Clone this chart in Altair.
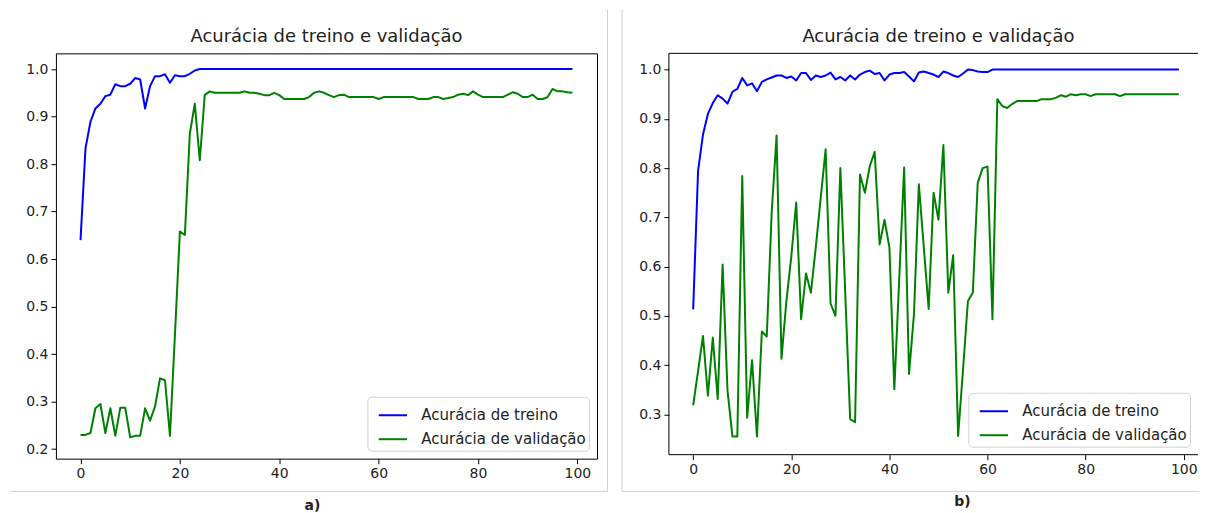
import altair as alt
import pandas as pd

series_names = ["Acurácia de treino", "Acurácia de validação"]
series_colors = ["#0000ff", "#008000"]
panel_title = "Acurácia de treino e validação"
panel_labels = ["a)", "b)"]

epochs = list(range(100))
x_ticks = [0, 20, 40, 60, 80, 100]
y_ticks_a = [0.2, 0.3, 0.4, 0.5, 0.6, 0.7, 0.8, 0.9, 1.0]
y_ticks_b = [0.3, 0.4, 0.5, 0.6, 0.7, 0.8, 0.9, 1.0]

train_a = [
    0.640, 0.833, 0.889, 0.917, 0.927, 0.943, 0.946, 0.968, 0.964, 0.964,
    0.969, 0.981, 0.978, 0.917, 0.964, 0.985, 0.985, 0.989, 0.971, 0.987,
    0.985, 0.985, 0.990, 0.997, 1.000, 1.000, 1.000, 1.000, 1.000, 1.000,
    1.000, 1.000, 1.000, 1.000, 1.000, 1.000, 1.000, 1.000, 1.000, 1.000,
    1.000, 1.000, 1.000, 1.000, 1.000, 1.000, 1.000, 1.000, 1.000, 1.000,
    1.000, 1.000, 1.000, 1.000, 1.000, 1.000, 1.000, 1.000, 1.000, 1.000,
    1.000, 1.000, 1.000, 1.000, 1.000, 1.000, 1.000, 1.000, 1.000, 1.000,
    1.000, 1.000, 1.000, 1.000, 1.000, 1.000, 1.000, 1.000, 1.000, 1.000,
    1.000, 1.000, 1.000, 1.000, 1.000, 1.000, 1.000, 1.000, 1.000, 1.000,
    1.000, 1.000, 1.000, 1.000, 1.000, 1.000, 1.000, 1.000, 1.000, 1.000,
]
val_a = [
    0.230, 0.230, 0.234, 0.286, 0.295, 0.234, 0.286, 0.228, 0.287, 0.287,
    0.225, 0.228, 0.228, 0.286, 0.260, 0.290, 0.349, 0.345, 0.228, 0.440,
    0.658, 0.651, 0.864, 0.927, 0.808, 0.945, 0.953, 0.950, 0.950, 0.950,
    0.950, 0.950, 0.950, 0.953, 0.950, 0.950, 0.948, 0.945, 0.945, 0.950,
    0.945, 0.937, 0.937, 0.937, 0.937, 0.937, 0.941, 0.950, 0.953, 0.950,
    0.945, 0.941, 0.945, 0.946, 0.941, 0.941, 0.941, 0.941, 0.941, 0.941,
    0.937, 0.941, 0.941, 0.941, 0.941, 0.941, 0.941, 0.941, 0.937, 0.937,
    0.937, 0.941, 0.941, 0.937, 0.939, 0.941, 0.946, 0.948, 0.945, 0.953,
    0.946, 0.941, 0.941, 0.941, 0.941, 0.941, 0.946, 0.951, 0.948, 0.941,
    0.941, 0.946, 0.937, 0.937, 0.941, 0.958, 0.953, 0.953, 0.951, 0.950,
]
train_b = [
    0.513, 0.795, 0.868, 0.910, 0.932, 0.948, 0.941, 0.931, 0.955, 0.961,
    0.983, 0.968, 0.972, 0.956, 0.975, 0.980, 0.984, 0.988, 0.988, 0.983,
    0.986, 0.978, 0.993, 0.993, 0.979, 0.988, 0.985, 0.988, 0.994, 0.980,
    0.985, 0.978, 0.988, 0.980, 0.990, 0.995, 0.998, 0.991, 0.993, 0.978,
    0.990, 0.993, 0.993, 0.995, 0.986, 0.976, 0.994, 0.996, 0.993, 0.990,
    0.985, 0.996, 0.993, 0.988, 0.985, 0.992, 1.000, 0.999, 0.996, 0.995,
    0.995, 1.000, 1.000, 1.000, 1.000, 1.000, 1.000, 1.000, 1.000, 1.000,
    1.000, 1.000, 1.000, 1.000, 1.000, 1.000, 1.000, 1.000, 1.000, 1.000,
    1.000, 1.000, 1.000, 1.000, 1.000, 1.000, 1.000, 1.000, 1.000, 1.000,
    1.000, 1.000, 1.000, 1.000, 1.000, 1.000, 1.000, 1.000, 1.000, 1.000,
]
val_b = [
    0.318, 0.388, 0.459, 0.338, 0.456, 0.331, 0.604, 0.348, 0.255, 0.255,
    0.784, 0.293, 0.410, 0.255, 0.468, 0.458, 0.710, 0.866, 0.413, 0.530,
    0.620, 0.730, 0.493, 0.586, 0.547, 0.640, 0.740, 0.838, 0.525, 0.500,
    0.800, 0.545, 0.290, 0.284, 0.787, 0.750, 0.804, 0.833, 0.645, 0.695,
    0.639, 0.351, 0.575, 0.801, 0.382, 0.503, 0.767, 0.640, 0.514, 0.750,
    0.695, 0.847, 0.547, 0.623, 0.256, 0.390, 0.530, 0.547, 0.770, 0.800,
    0.803, 0.493, 0.940, 0.926, 0.922, 0.930, 0.936, 0.936, 0.936, 0.936,
    0.936, 0.940, 0.940, 0.940, 0.943, 0.948, 0.945, 0.950, 0.948, 0.950,
    0.950, 0.946, 0.950, 0.950, 0.950, 0.950, 0.950, 0.946, 0.950, 0.950,
    0.950, 0.950, 0.950, 0.950, 0.950, 0.950, 0.950, 0.950, 0.950, 0.950,
]

FONT = "DejaVu Sans"
one = pd.DataFrame({"k": [0]})


def make_panel(train, val, width, height, ydomain, yticks, xmax, label, lab_x, lab_y,
               vline, hline, title_dx, own_spines):
    df = pd.DataFrame({
        "epoch": epochs + epochs,
        "acc": train + val,
        "serie": [series_names[0]] * len(epochs) + [series_names[1]] * len(epochs),
    })
    lines = alt.Chart(df).mark_line(strokeWidth=2, strokeJoin="round").encode(
        x=alt.X("epoch:Q", scale=alt.Scale(domain=[-4.95, xmax], nice=False, zero=False),
                axis=alt.Axis(values=x_ticks, title=None, format="d")),
        y=alt.Y("acc:Q", scale=alt.Scale(domain=ydomain, nice=False, zero=False),
                axis=alt.Axis(values=yticks, title=None, format=".1f")),
        color=alt.Color("serie:N",
                        scale=alt.Scale(domain=series_names, range=series_colors),
                        sort=series_names,
                        legend=alt.Legend(title=None, orient="bottom-right", offset=8,
                                          fillColor="white", strokeColor="#d0d0d0",
                                          cornerRadius=4, padding=3, symbolOffset=7,
                                          symbolType="stroke",
                                          symbolSize=800, symbolStrokeWidth=2,
                                          labelFont=FONT, labelFontSize=15, labelColor="#222",
                                          labelOffset=13, rowPadding=0, labelLimit=400)),
    )
    layers = [lines]
    grey = "#d0d0d0"
    layers.append(alt.Chart(one).mark_rule(color=grey, strokeWidth=1).encode(
        x=alt.value(vline[0]), y=alt.value(vline[1]), y2=alt.value(vline[2])))
    layers.append(alt.Chart(one).mark_rule(color=grey, strokeWidth=1).encode(
        x=alt.value(hline[0]), x2=alt.value(hline[1]), y=alt.value(hline[2])))
    if own_spines:
        layers.append(alt.Chart(one).mark_rule(color="black", strokeWidth=1).encode(
            x=alt.value(0), y=alt.value(0), y2=alt.value(height)))
        layers.append(alt.Chart(one).mark_rule(color="black", strokeWidth=1).encode(
            x=alt.value(0), x2=alt.value(width), y=alt.value(height)))
        layers.append(alt.Chart(one).mark_rule(color="black", strokeWidth=1).encode(
            x=alt.value(0), x2=alt.value(width), y=alt.value(0)))
    layers.append(alt.Chart(one).mark_text(text=label, font=FONT, fontSize=14, fontWeight="bold",
                                           align="center", baseline="alphabetic",
                                           color="#222").encode(
        x=alt.value(lab_x), y=alt.value(lab_y)))
    view = alt.ViewBackground(stroke="transparent") if own_spines else alt.ViewBackground(
        stroke="black", strokeWidth=1)
    return alt.layer(*layers).properties(
        width=width, height=height, view=view,
        title=alt.TitleParams(panel_title, font=FONT, fontSize=18, fontWeight="normal",
                              color="#222", anchor="middle", frame="group",
                              baseline="alphabetic", offset=-51, dx=title_dx),
    )


left = make_panel(train_a, val_a, 542, 406, [0.180, 1.033], y_ticks_a, 103.95,
                  panel_labels[0], 257, 457, (552.5, -44, 438.8), (-46.5, 552.5, 438.8),
                  0, False)
right = make_panel(train_b, val_b, 530, 402, [0.218, 1.033], y_ticks_b, 102.9,
                   panel_labels[1], 294, 453, (-47, -44, 438.8), (-47, 531, 438.8),
                   5, True)

chart = alt.hconcat(left, right, spacing=12).resolve_legend(
    color="independent"
).resolve_scale(
    color="independent", x="independent", y="independent"
).properties(
    padding={"left": 0, "top": 0, "right": 0, "bottom": 0}
).configure_axis(
    labelFont=FONT, labelFontSize=14, labelColor="#222", tickColor="#000", tickSize=5,
    tickWidth=1, labelPadding=3, domain=False, grid=False
).configure_view(stroke="black", strokeWidth=1)

chart.save("out.html", embed_options={"renderer": "svg", "actions": False})
